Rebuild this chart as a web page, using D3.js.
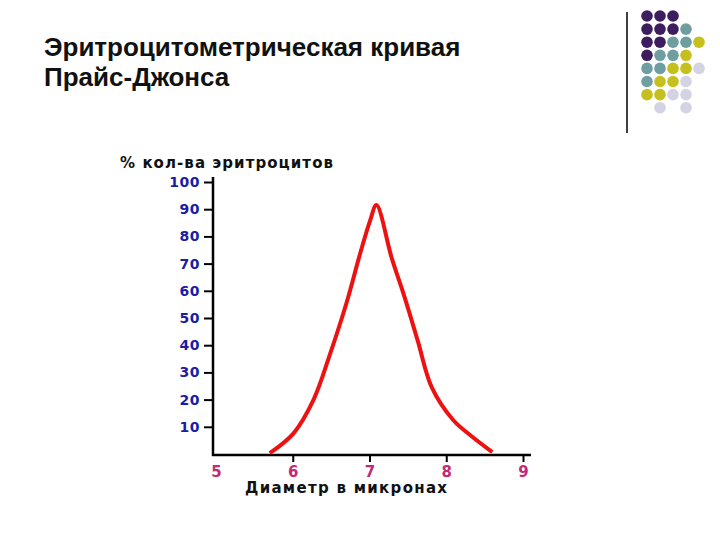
<!DOCTYPE html>
<html>
<head>
<meta charset="utf-8">
<script src="https://cdn.jsdelivr.net/npm/d3@7"></script>
<style>
  body { margin: 0; background: #fff; }
</style>
</head>
<body>
<div id="chart"></div>
<script>
// диаметр эритроцитов (мкм) и % эритроцитов
const diameter = [5.70, 6.01, 6.27, 6.49, 6.70, 6.88, 7.01, 7.09, 7.29, 7.46, 7.63, 7.81, 8.09, 8.31, 8.60];
const percent  = [0.3, 7.6, 19.9, 37.1, 55.5, 73.9, 86, 91.5, 72, 57.4, 41.5, 24.6, 12.5, 7.0, 0.7];

const xTicks = [5, 6, 7, 8, 9];
const yTicks = [10, 20, 30, 40, 50, 60, 70, 80, 90, 100];

// декоративная сетка кружков справа вверху
const dotRows = [
  ['p', 'p', 'p', '', ''],
  ['p', 'p', 'p', 't', ''],
  ['p', 'p', 't', 't', 'y'],
  ['p', 't', 't', 'y', ''],
  ['t', 't', 'y', 'y', 'l'],
  ['t', 'y', 'y', 'l', ''],
  ['y', 'y', 'l', 'l', ''],
  ['', 'l', '', 'l', '']
];
const dotColors = { p: '#3c1d5e', t: '#6f9ea0', y: '#c6c01e', l: '#d3d3e3' };

const width = 720;
const height = 540;

const svg = d3.select('#chart')
  .append('svg')
  .attr('width', width)
  .attr('height', height);

// заголовок
const title = svg.append('text')
  .attr('font-family', 'Liberation Sans, Arial, sans-serif')
  .attr('font-weight', 'bold')
  .attr('font-size', 26)
  .attr('fill', '#111');
title.append('tspan').attr('x', 44).attr('y', 56).text('Эритроцитометрическая кривая');
title.append('tspan').attr('x', 44).attr('y', 86).text('Прайс-Джонса');

// вертикальная линия и кружки
svg.append('line')
  .attr('x1', 627).attr('x2', 627)
  .attr('y1', 12).attr('y2', 133)
  .attr('stroke', '#000').attr('stroke-width', 1.5);

const dots = [];
dotRows.forEach((row, i) => row.forEach((c, j) => { if (c) dots.push({ i, j, c }); }));
svg.append('g').selectAll('circle')
  .data(dots)
  .enter()
  .append('circle')
  .attr('cx', d => 647 + d.j * 13)
  .attr('cy', d => 16 + d.i * 13.1)
  .attr('r', 5.8)
  .attr('fill', d => dotColors[d.c]);

// шкалы
const scaleX = d3.scaleLinear().domain([5, 9]).range([216, 523]);
const scaleY = d3.scaleLinear().domain([0, 100]).range([454, 182]);

const font = 'DejaVu Sans, Verdana, sans-serif';

// ось Y
const yAxis = d3.axisLeft(scaleY)
  .tickValues(yTicks)
  .tickSize(9)
  .tickPadding(4);

const gy = svg.append('g')
  .attr('transform', 'translate(213, 0)')
  .call(yAxis);
gy.select('.domain').remove();
gy.selectAll('line').attr('stroke', '#000').attr('stroke-width', 2);
gy.selectAll('text')
  .attr('font-family', font)
  .attr('font-weight', 'bold')
  .attr('font-size', 14)
  .attr('letter-spacing', 0.5)
  .attr('fill', '#1c1ca6');

svg.append('line')
  .attr('x1', 213).attr('x2', 213)
  .attr('y1', 177).attr('y2', 456)
  .attr('stroke', '#000').attr('stroke-width', 2.5);

// ось X
const xAxis = d3.axisBottom(scaleX)
  .tickValues(xTicks)
  .tickFormat(d3.format('d'))
  .tickSize(7)
  .tickPadding(4);

const gx = svg.append('g')
  .attr('transform', 'translate(0, 455)')
  .call(xAxis);
gx.select('.domain').remove();
gx.selectAll('line').attr('stroke', '#000').attr('stroke-width', 2);
gx.selectAll('.tick').filter(d => d === 5).select('line').remove();
gx.selectAll('text')
  .attr('font-family', font)
  .attr('font-weight', 'bold')
  .attr('font-size', 15)
  .attr('fill', '#c22a78');

svg.append('line')
  .attr('x1', 212).attr('x2', 531)
  .attr('y1', 455).attr('y2', 455)
  .attr('stroke', '#000').attr('stroke-width', 2.5);

// подписи осей
svg.append('text')
  .attr('x', 120).attr('y', 168)
  .attr('font-family', font)
  .attr('font-weight', 'bold')
  .attr('font-size', 15)
  .attr('textLength', 213)
  .attr('lengthAdjust', 'spacing')
  .attr('fill', '#111')
  .text('% кол-ва эритроцитов');

svg.append('text')
  .attr('x', 245).attr('y', 493)
  .attr('font-family', font)
  .attr('font-weight', 'bold')
  .attr('font-size', 15)
  .attr('textLength', 202)
  .attr('lengthAdjust', 'spacing')
  .attr('fill', '#111')
  .text('Диаметр в микронах');

// кривая
const line = d3.line()
  .x((d, i) => scaleX(diameter[i]))
  .y(d => scaleY(d))
  .curve(d3.curveCatmullRom.alpha(0.5));

svg.append('path')
  .datum(percent)
  .attr('d', line)
  .attr('fill', 'none')
  .attr('stroke', '#ee1111')
  .attr('stroke-width', 4)
  .attr('stroke-linejoin', 'round');
</script>
</body>
</html>
